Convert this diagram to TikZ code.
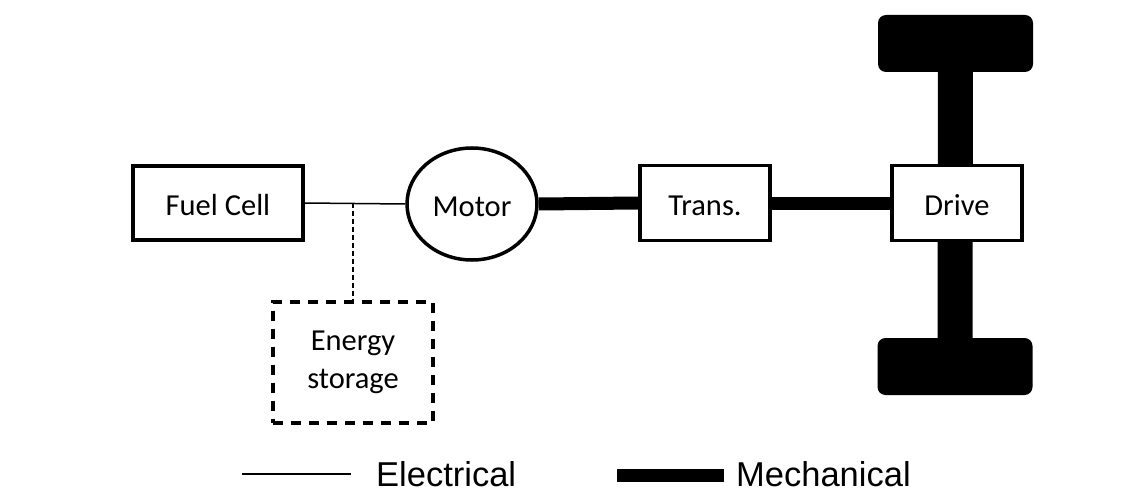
\documentclass[tikz,border=0pt]{standalone}
\usepackage{fontspec}
\setmainfont{Carlito}
\newfontfamily\legendfont{Liberation Sans}
\usetikzlibrary{positioning, shapes.geometric}
\tikzset{
	blk/.style={draw=black, fill=white, line width=3.5pt, inner sep=0pt,
		align=center, font=\fontsize{30.5}{37}\selectfont,
		text height=24pt, text depth=0pt},
	motorshape/.style={blk, ellipse, minimum width=130pt, minimum height=112pt},
	estore/.style={draw=black, fill=white, inner sep=0pt, align=center,
		font=\fontsize{30.5}{37}\selectfont, dash pattern=on 10pt off 8pt, line width=4pt,
		minimum width=160pt, minimum height=121pt},
	wheel/.style={fill=black, rounded corners=8pt, minimum width=155pt, minimum height=57pt, inner sep=0pt},
	elec/.style={line width=1.5pt},
	mech/.style={line width=13pt},
	axle/.style={line width=35pt},
	legtext/.style={font=\legendfont\fontsize{34.5}{40}\selectfont, inner sep=0pt,
		text depth=0pt, anchor=base west}
}

\begin{document}
\begin{tikzpicture}[x=1pt, y=-1pt]
	\useasboundingbox (0,0) rectangle (1145,492);
	% wheels and axle
	\node[wheel] (wtop) at (955.5,43.5) {};
	\node[wheel] (wbot) at (955,366.5) {};
	\draw[axle] (wtop) -- (wbot);
	% blocks
	\node[blk, minimum width=170pt, minimum height=74pt] (fc) at (218,203) {Fuel Cell};
	\node[motorshape] (motor) at (472,204) {Motor};
	\node[blk, minimum width=130pt, minimum height=75pt] (trans) at (705,203) {Trans.};
	\node[blk, minimum width=130pt, minimum height=75pt] (drive) at (957,203) {Drive};
	\node[estore] (es) at (353,362) {Energy\\[1pt]storage};
	\coordinate (tap) at (es.north |- fc.east);
	% links
	\draw[elec] (fc.east) -- (motor.west);
	\draw[line width=1.5pt, dash pattern=on 5pt off 3pt] (tap) -- (es.north);
	\draw[mech] (motor.east) -- (trans.west);
	\draw[mech] (trans.east) -- (drive.west);
	% legend
	\coordinate (le1) at (242,474);
	\coordinate (le2) at (351,474);
	\coordinate (lm1) at (617,475.5);
	\coordinate (lm2) at (724,475.5);
	\draw[elec] (le1) -- (le2);
	\draw[mech] (lm1) -- (lm2);
	\node[legtext] (lelec) at (376,486) {Electrical};
	\node[legtext] (lmech) at (736,486) {Mechanical};
\end{tikzpicture}
\end{document}
